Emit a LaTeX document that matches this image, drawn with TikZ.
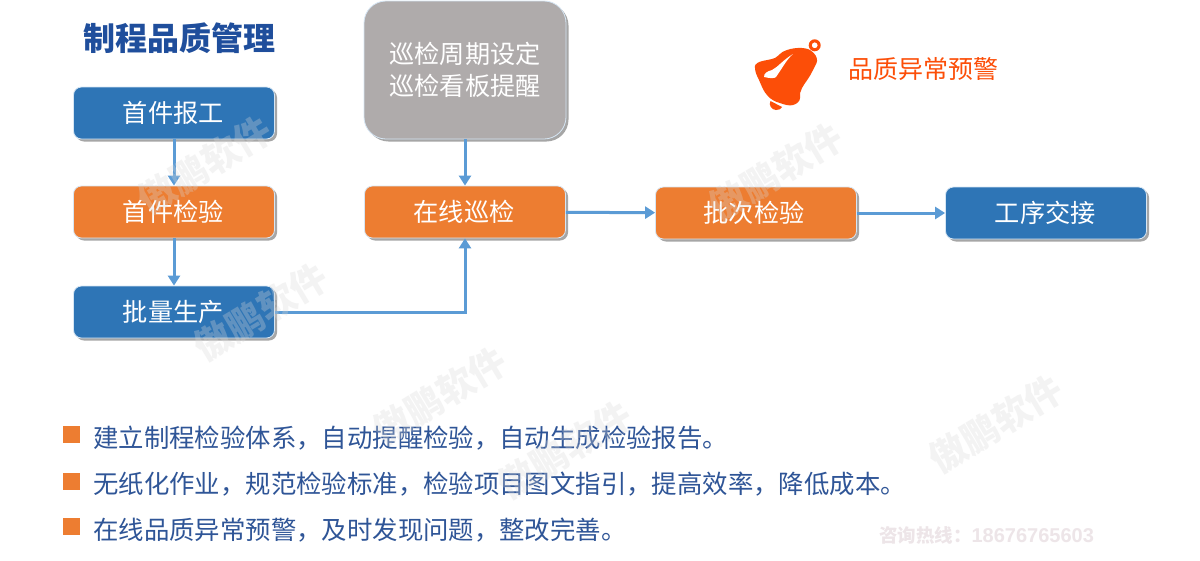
\documentclass[tikz,border=0pt]{standalone}
\usepackage{fontspec}
\setmainfont{Noto Sans CJK SC}
\newfontfamily\latinbold{Liberation Sans}
\usetikzlibrary{arrows.meta,shadows,calc}
\definecolor{bluebox}{HTML}{2E75B6}
\definecolor{orangebox}{HTML}{ED7D31}
\definecolor{greybox}{HTML}{AFABAB}
\definecolor{linkblue}{HTML}{5B9BD5}
\definecolor{titleblue}{HTML}{1F4E9C}
\definecolor{textblue}{HTML}{2F5597}
\definecolor{alarm}{HTML}{FC4E08}
\definecolor{bullet}{HTML}{ED7D31}
\definecolor{wmark}{HTML}{D8D8D8}
\definecolor{hotline}{HTML}{EDE5E8}
\tikzset{
  x=1pt,y=-1pt,
  procbox/.style={rounded corners=8pt,draw=white!75!linkblue,line width=0.8pt,text=white,
    minimum width=201pt,minimum height=52pt,inner sep=0pt,font=\fontsize{25.2}{32}\selectfont,
    drop shadow={shadow xshift=2.5pt,shadow yshift=-2.5pt,fill=black,opacity=0.35}},
  link/.style={draw=linkblue,line width=3pt,-{Triangle[length=10pt,width=12pt]}},
  bulletbox/.style={fill=bullet,minimum size=17pt,inner sep=0pt},
  bullettext/.style={anchor=west,text=textblue,inner sep=0pt,font=\fontsize{25.4}{25.4}\selectfont},
  wm/.style={text=wmark,opacity=0.3,rotate=31,inner sep=0pt,font=\fontsize{37}{37}\selectfont\bfseries},
}
\begin{document}
\begin{tikzpicture}
\useasboundingbox (0,0) rectangle (1200,560);
\fill[white] (0,0) rectangle (1200,560);
\node[text=titleblue,inner sep=0pt,font=\fontsize{32}{32}\selectfont\bfseries] (title) at (179,38) {制程品质管理};
\node[procbox,fill=bluebox] (a) at (174,113) {\hspace{-1.5pt}首件报工};
\node[procbox,fill=orangebox] (b) at (174,212) {\hspace{-1.5pt}首件检验};
\node[procbox,fill=bluebox] (c) at (174,312) {\hspace{-1.5pt}批量生产};
\node[procbox,fill=greybox,minimum width=202pt,minimum height=138pt,rounded corners=22pt,align=center] (d) at (465,70) {巡检周期设定\\巡检看板提醒};
\node[procbox,fill=orangebox] (e) at (465,212) {\hspace{-2pt}在线巡检};
\node[procbox,fill=orangebox] (f) at (756,213) {\hspace{-4pt}批次检验};
\node[procbox,fill=bluebox] (g) at (1046,213) {\hspace{-1.5pt}工序交接};
\draw[link] (a) -- (b);
\draw[link] (b) -- (c);
\draw[link] (c.east) -| (e.south);
\draw[link] (d) -- (e);
\draw[link] (e) -- (f);
\draw[link] (f) -- (g);
% bell
\fill[alarm,even odd rule] (814.7,45.3) circle (6) (814.7,45.3) circle (3);
\fill[alarm] (810,50) .. controls (805,47) and (792,47) .. (783,51.7)
  .. controls (779,54) and (778,57) .. (775,58)
  .. controls (770,60) and (765,60) .. (760,61.7)
  .. controls (756,63) and (754,66) .. (755,68)
  .. controls (755,72) and (757,76) .. (759,80)
  .. controls (762,87) and (764,92) .. (767,95)
  .. controls (771,100) and (776,102) .. (780,103)
  .. controls (785,105) and (790,106) .. (793,105)
  .. controls (797,104) and (800,101) .. (800,98)
  .. controls (800,94) and (800,91) .. (802,88)
  .. controls (806,81) and (810,77) .. (813,70)
  .. controls (816,64) and (818,62) .. (816.7,58)
  .. controls (816,55) and (813,52) .. (810,50) -- cycle;
\fill[alarm] (770.5,101) .. controls (768,105) and (772,110) .. (776,110)
  .. controls (779,110) and (781,109) .. (782,107) -- cycle;
\fill[white] (764,77) .. controls (764,73) and (767,71.5) .. (772,70)
  .. controls (778,67) and (783,60) .. (793,54)
  .. controls (787,59) and (783,67) .. (776,77)
  .. controls (775,78.5) and (770,78.5) .. (764,77) -- cycle;
\node[text=alarm,inner sep=0pt,font=\fontsize{25}{25}\selectfont] (alarmtext) at (923,69) {品质异常预警};
% bullets
\node[bulletbox] (b1) at (71.5,434.5) {};
\node[bulletbox] (b2) at (71.5,481.5) {};
\node[bulletbox] (b3) at (71.5,526.5) {};
\node[bullettext] (t1) at (93,438) {建立制程检验体系，自动提醒检验，自动生成检验报告。};
\node[bullettext] (t2) at (93,484) {无纸化作业，规范检验标准，检验项目图文指引，提高效率，降低成本。};
\node[bullettext] (t3) at (93,530) {在线品质异常预警，及时发现问题，整改完善。};
% watermarks
\node[wm] (w1) at (205,165) {傲鹏软件};
\node[wm] (w2) at (261,312) {傲鹏软件};
\node[wm] (w3) at (440,396) {傲鹏软件};
\node[wm] (w4) at (565,450) {傲鹏软件};
\node[wm] (w5) at (776,172) {傲鹏软件};
\node[wm] (w6) at (996,424) {傲鹏软件};
\node[text=hotline,inner sep=0pt,anchor=center,font=\fontsize{18.5}{18.5}\selectfont\bfseries] (hot) at (986.5,535) {咨询热线：{\latinbold\bfseries\fontsize{20}{20}\selectfont 18676765603}};
\end{tikzpicture}
\end{document}
